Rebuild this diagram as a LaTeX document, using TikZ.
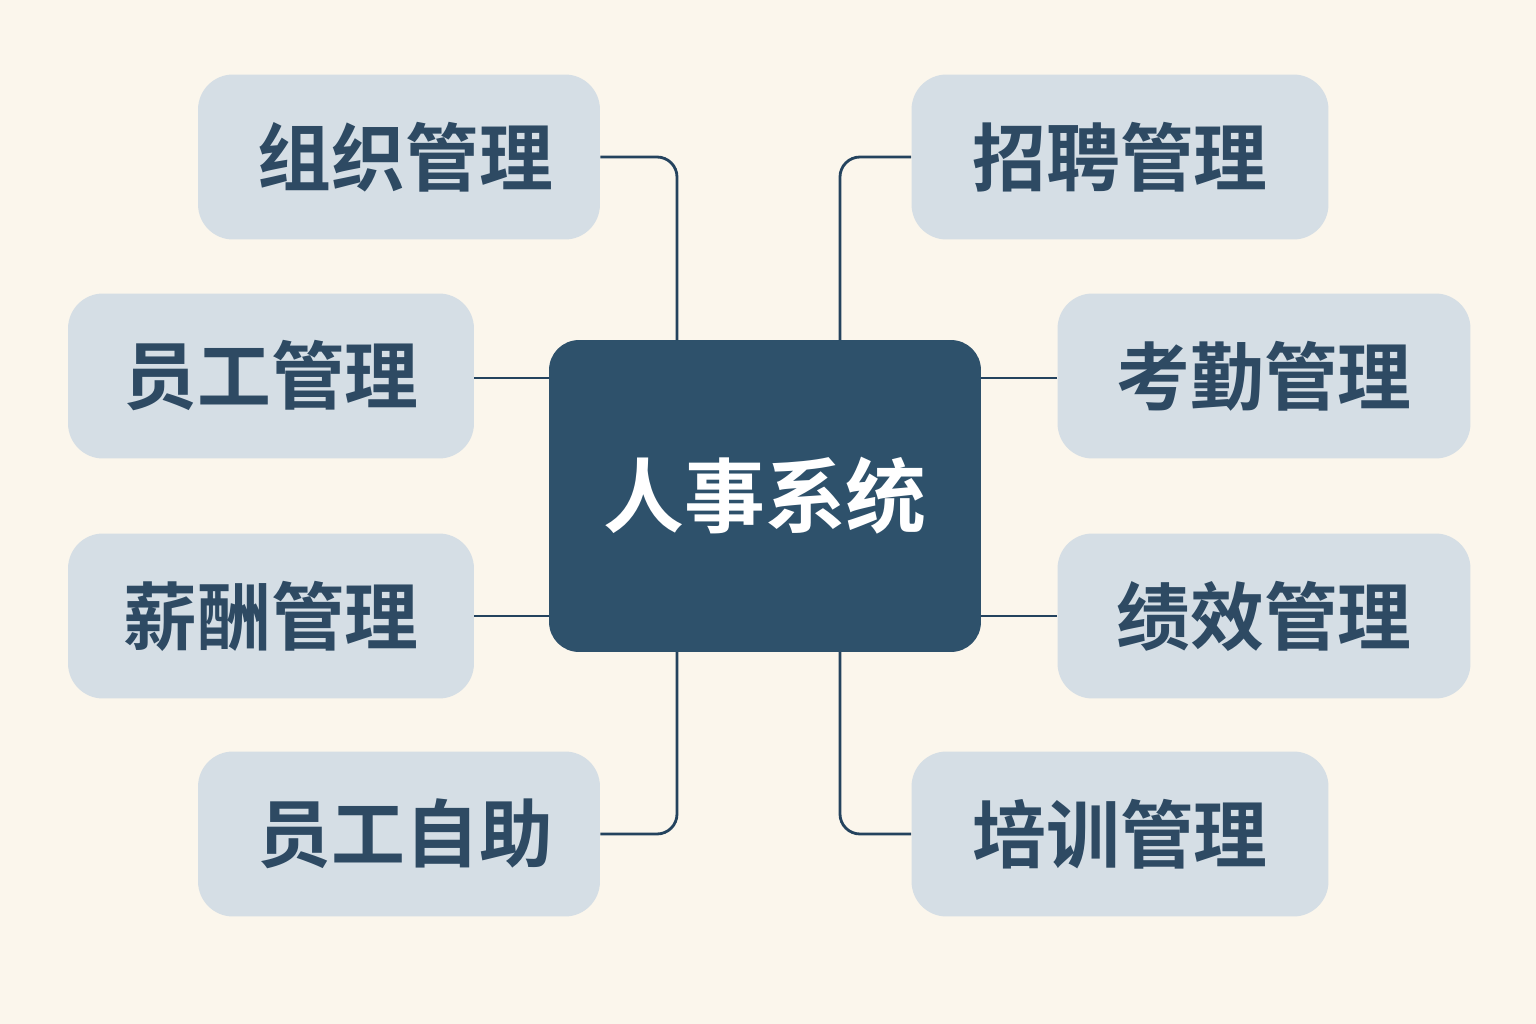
\documentclass[tikz,border=0pt]{standalone}
\usepackage{fontspec}
\newfontfamily\cjk{Noto Sans CJK SC}[BoldFont={* Bold}]
\definecolor{bgc}{HTML}{FBF6EC}
\definecolor{boxc}{HTML}{D5DEE5}
\definecolor{darkc}{HTML}{2E516B}
\definecolor{txtc}{HTML}{2E4A63}
\definecolor{linec}{HTML}{24435E}
\begin{document}
\begin{tikzpicture}[x=0.02cm,y=-0.02cm,
  leaf/.style={fill=boxc,rounded corners=0.7cm,minimum height=3.3cm,text=txtc,
    font=\cjk\bfseries\fontsize{42}{42}\selectfont,inner sep=0pt},
  hub/.style={fill=darkc,rounded corners=0.6cm,minimum width=8.64cm,minimum height=6.24cm,
    text=white,font=\cjk\bfseries\fontsize{46}{46}\selectfont,inner sep=0pt},
  conn/.style={draw=linec,line width=1.6pt,rounded corners=0.4cm}]
\fill[bgc] (0,0) rectangle (1536,1024);
\useasboundingbox (0,0) rectangle (1536,1024);
\node[hub] (c) at (765,496) {人事系统};
\node[leaf,minimum width=8.04cm] (zz) at (399,157) {\hspace{0.25cm}组织管理};
\node[leaf,minimum width=8.12cm] (yg) at (271,376) {员工管理};
\node[leaf,minimum width=8.12cm] (xc) at (271,616) {薪酬管理};
\node[leaf,minimum width=8.04cm] (zh) at (399,834) {\hspace{0.25cm}员工自助};
\node[leaf,minimum width=8.34cm] (zp) at (1120,157) {招聘管理};
\node[leaf,minimum width=8.26cm] (kq) at (1264,376) {考勤管理};
\node[leaf,minimum width=8.26cm] (jx) at (1264,616) {绩效管理};
\node[leaf,minimum width=8.34cm] (px) at (1120,834) {培训管理};
\coordinate (ctl) at (677,340);
\coordinate (ctr) at (840,340);
\coordinate (cbl) at (677,652);
\coordinate (cbr) at (840,652);
\draw[conn] (zz.east) -| (ctl);
\draw[conn] (zp.west) -| (ctr);
\draw[conn] (zh.east) -| (cbl);
\draw[conn] (px.west) -| (cbr);
\draw[conn] (yg.east |- 0,378) -- (c.west |- 0,378);
\draw[conn] (xc.east |- 0,616) -- (c.west |- 0,616);
\draw[conn] (kq.west |- 0,378) -- (c.east |- 0,378);
\draw[conn] (jx.west |- 0,616) -- (c.east |- 0,616);
\end{tikzpicture}
\end{document}
